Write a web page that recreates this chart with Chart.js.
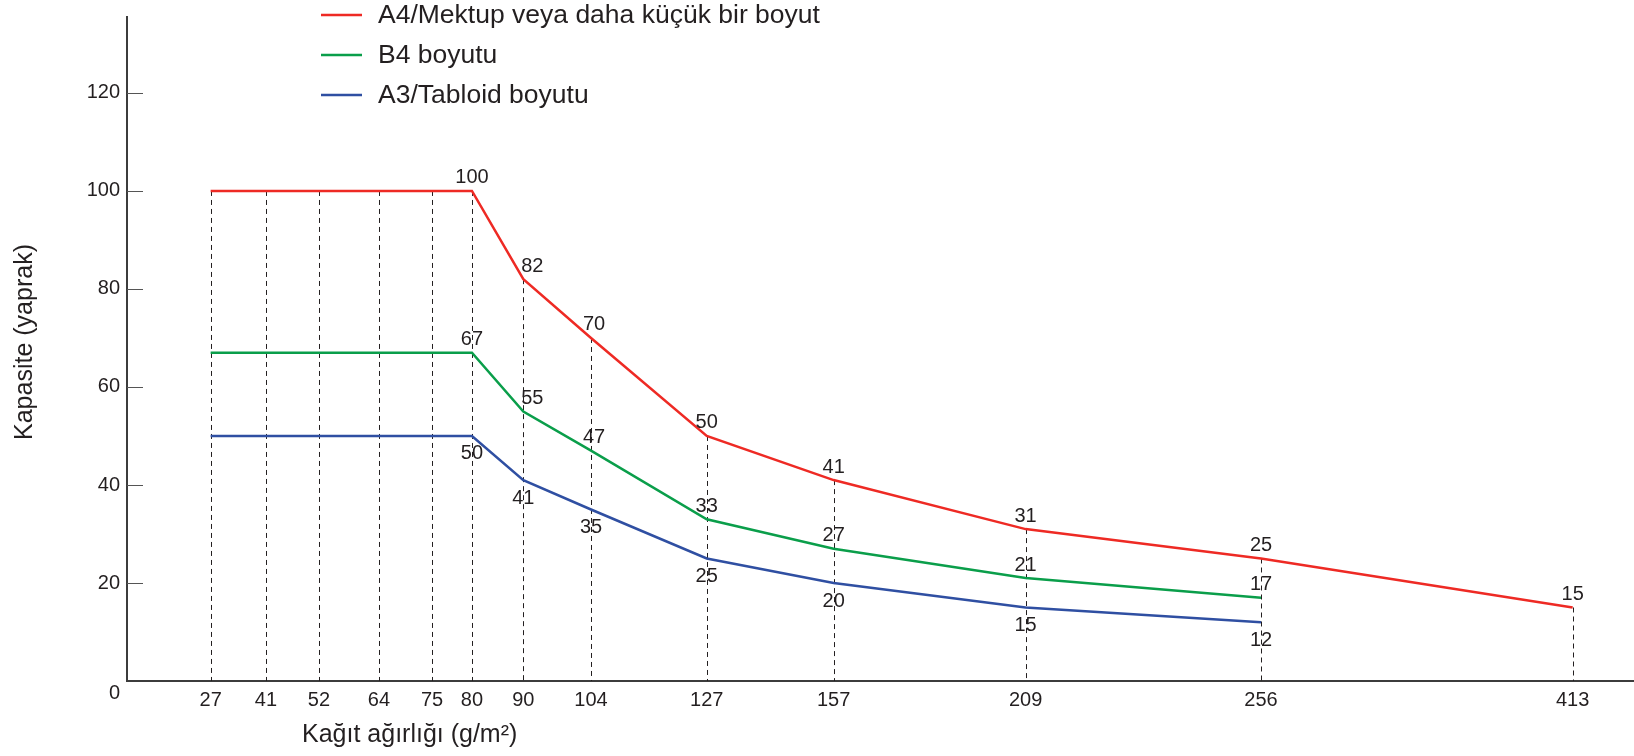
<!DOCTYPE html>
<html>
<head>
    <title>Kapasite - Kağıt ağırlığı</title>
    <script src="https://cdn.jsdelivr.net/npm/chart.js@4.4.0/dist/chart.umd.min.js"></script>
    <style>
        html, body { margin: 0; padding: 0; background: #fff; }
    </style>
</head>
<body>
    <canvas id="capacityChart" width="1634" height="756"></canvas>

    <script>
        /* data */
        const weights = [27, 41, 52, 64, 75, 80, 90, 104, 127, 157, 209, 256, 413];
        const a4Values = [100, 100, 100, 100, 100, 100, 82, 70, 50, 41, 31, 25, 15];
        const b4Values = [67, 67, 67, 67, 67, 67, 55, 47, 33, 27, 21, 17];
        const a3Values = [50, 50, 50, 50, 50, 50, 41, 35, 25, 20, 15, 12];
        const yTickValues = [0, 20, 40, 60, 80, 100, 120];
        const seriesNames = ['A4/Mektup veya daha küçük bir boyut', 'B4 boyutu', 'A3/Tabloid boyutu'];
        const labeledWeights = [80, 90, 104, 127, 157, 209, 256, 413];

        // the printed axis is not to scale: share of the axis width where each weight sits
        const xAxisStops = [0.0555, 0.0922, 0.1274, 0.1672, 0.2024, 0.2289, 0.2630, 0.3079, 0.3847, 0.4689, 0.5963, 0.7525, 0.9593];

        const FONT = "'Liberation Sans', Arial, sans-serif";
        const INK = '#231f20';
        const colors = ['#ee2a24', '#0a9e4a', '#2f4fa2'];

        function toStop(v) {
            let i = 0;
            while (i < weights.length - 2 && v > weights[i + 1]) i++;
            const t = (v - weights[i]) / (weights[i + 1] - weights[i]);
            return xAxisStops[i] + t * (xAxisStops[i + 1] - xAxisStops[i]);
        }
        function fromStop(f) {
            let i = 0;
            while (i < xAxisStops.length - 2 && f > xAxisStops[i + 1]) i++;
            const t = (f - xAxisStops[i]) / (xAxisStops[i + 1] - xAxisStops[i]);
            return weights[i] + t * (weights[i + 1] - weights[i]);
        }

        class WarpedScale extends Chart.LinearScale {
            getPixelForValue(value) {
                if (value === null || value === undefined) return NaN;
                return this.getPixelForDecimal(toStop(value));
            }
            getValueForPixel(pixel) {
                return fromStop(this.getDecimalForPixel(pixel));
            }
        }
        WarpedScale.id = 'warped';
        WarpedScale.defaults = Chart.LinearScale.defaults;
        Chart.register(WarpedScale);

        function points(values) {
            return values.map((v, i) => ({ x: weights[i], y: v }));
        }

        // dashed drop lines from the top series down to the axis
        const dropLines = {
            id: 'dropLines',
            beforeDatasetsDraw(chart) {
                const ctx = chart.ctx;
                const bottom = chart.chartArea.bottom;
                const meta = chart.getDatasetMeta(0);
                ctx.save();
                ctx.strokeStyle = INK;
                ctx.lineWidth = 1;
                ctx.setLineDash([5, 4]);
                meta.data.forEach(pt => {
                    const x = Math.round(pt.x) + 0.5;
                    ctx.beginPath();
                    ctx.moveTo(x, pt.y);
                    ctx.lineTo(x, bottom);
                    ctx.stroke();
                });
                ctx.restore();
            }
        };

        // inward y tick marks, the lone "0", axis titles and legend
        const decorations = {
            id: 'decorations',
            afterDraw(chart) {
                const ctx = chart.ctx;
                const area = chart.chartArea;
                const yScale = chart.scales.y;
                ctx.save();
                ctx.strokeStyle = '#555';
                ctx.lineWidth = 1;
                yTickValues.forEach(v => {
                    if (v === 0) return;
                    const y = Math.round(yScale.getPixelForValue(v)) + 0.5;
                    ctx.beginPath();
                    ctx.moveTo(area.left, y);
                    ctx.lineTo(area.left + 16, y);
                    ctx.stroke();
                });

                ctx.fillStyle = INK;
                ctx.font = '20px ' + FONT;
                ctx.textAlign = 'right';
                ctx.textBaseline = 'middle';
                ctx.fillText('0', area.left - 7, area.bottom + 12);

                ctx.font = '25px ' + FONT;
                ctx.textAlign = 'left';
                ctx.fillText('Kağıt ağırlığı (g/m²)', 302, 735);

                ctx.save();
                ctx.translate(25, 342);
                ctx.rotate(-Math.PI / 2);
                ctx.textAlign = 'center';
                ctx.fillText('Kapasite (yaprak)', 0, 0);
                ctx.restore();

                ctx.font = '26.5px ' + FONT;
                chart.data.datasets.forEach((ds, i) => {
                    const y = 15 + i * 40;
                    ctx.strokeStyle = ds.borderColor;
                    ctx.lineWidth = 2.5;
                    ctx.beginPath();
                    ctx.moveTo(321, y);
                    ctx.lineTo(362, y);
                    ctx.stroke();
                    ctx.fillStyle = INK;
                    ctx.fillText(ds.label, 378, y + 1);
                });
                ctx.restore();
            }
        };

        // value labels: upper two series above the line, lowest one below
        const valueLabels = {
            id: 'valueLabels',
            afterDatasetsDraw(chart) {
                const ctx = chart.ctx;
                ctx.save();
                ctx.fillStyle = INK;
                ctx.font = '20px ' + FONT;
                ctx.textAlign = 'center';
                ctx.textBaseline = 'middle';
                chart.data.datasets.forEach((ds, d) => {
                    const meta = chart.getDatasetMeta(d);
                    meta.data.forEach((pt, i) => {
                        const w = weights[i];
                        if (!labeledWeights.includes(w)) return;
                        let dx = 0;
                        if (d < 2 && w === 90) dx = 9;
                        if (d < 2 && w === 104) dx = 3;
                        const dy = d < 2 ? -13 : 18;
                        ctx.fillText(String(ds.data[i].y), pt.x + dx, pt.y + dy);
                    });
                });
                ctx.restore();
            }
        };

        const ctx = document.getElementById('capacityChart').getContext('2d');
        const capacityChart = new Chart(ctx, {
            type: 'line',
            data: {
                datasets: [a4Values, b4Values, a3Values].map((vals, i) => ({
                    label: seriesNames[i],
                    data: points(vals),
                    borderColor: colors[i],
                    backgroundColor: colors[i],
                    borderWidth: 2.5,
                    pointRadius: 0,
                    tension: 0,
                    fill: false
                }))
            },
            options: {
                responsive: false,
                animation: false,
                layout: { padding: { top: 0, left: 0, right: 0, bottom: 0 } },
                plugins: {
                    legend: { display: false },
                    tooltip: { enabled: false }
                },
                scales: {
                    x: {
                        type: 'warped',
                        position: 'bottom',
                        min: 0,
                        max: 450,
                        afterBuildTicks: s => { s.ticks = weights.map(v => ({ value: v })); },
                        afterFit: s => { s.height = 75; },
                        grid: { display: false, drawTicks: false },
                        border: { display: true, color: '#3c3c3c', width: 2 },
                        ticks: {
                            autoSkip: false,
                            maxRotation: 0,
                            padding: 7,
                            color: INK,
                            font: { family: FONT, size: 20 },
                            callback: v => String(v)
                        }
                    },
                    y: {
                        min: 0,
                        max: 135.5,
                        afterBuildTicks: s => { s.ticks = yTickValues.map(v => ({ value: v })); },
                        afterFit: s => { s.width = 127; },
                        grid: { display: false, drawTicks: false },
                        border: { display: true, color: '#3c3c3c', width: 2 },
                        ticks: {
                            padding: 7,
                            color: INK,
                            font: { family: FONT, size: 20, lineHeight: 1 },
                            callback: v => (v === 0 ? '' : String(v))
                        }
                    }
                }
            },
            plugins: [dropLines, valueLabels, decorations]
        });
    </script>
</body>
</html>
